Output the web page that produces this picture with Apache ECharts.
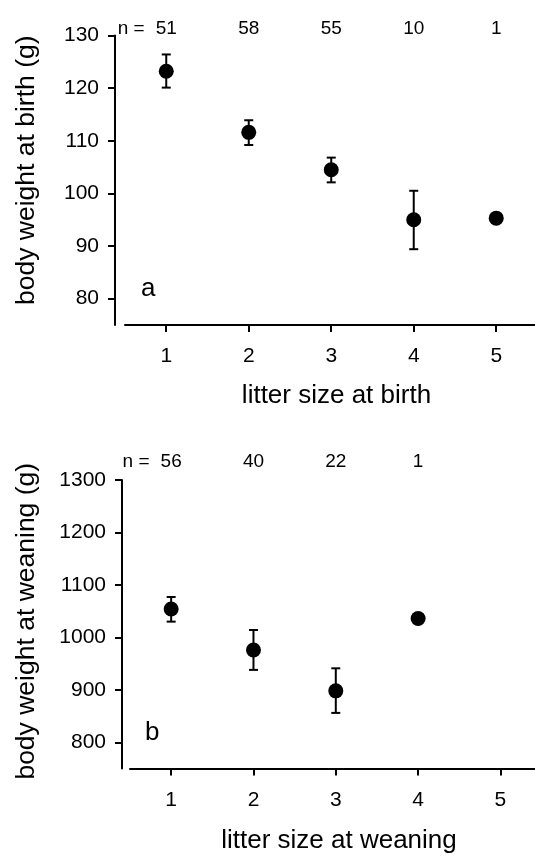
<!DOCTYPE html>
<html>
<head>
<meta charset="utf-8">
<script src="https://cdn.jsdelivr.net/npm/echarts@6/dist/echarts.min.js"></script>
<style>
html,body{margin:0;padding:0;background:#fff;}
#chart{width:535px;height:856px;}
</style>
</head>
<body>
<div id="chart"></div>
<script>
// ---- Data ----
var birthSizes = [1, 2, 3, 4, 5];
var birthMean  = [123.2, 111.6, 104.5, 95.0, 95.3];
var birthLow   = [120.1, 109.2, 102.1, 89.4, null];
var birthHigh  = [126.4, 113.9, 106.8, 100.5, null];
var birthN     = [51, 58, 55, 10, 1];

var weanSizes = [1, 2, 3, 4];
var weanMean  = [1054, 976, 898, 1036];
var weanLow   = [1030, 938, 856, null];
var weanHigh  = [1077, 1014, 941, null];
var weanN     = [56, 40, 22, 1];

var xTicks = [1, 2, 3, 4, 5];
var birthYTicks = [80, 90, 100, 110, 120, 130];
var weanYTicks  = [800, 900, 1000, 1100, 1200, 1300];

// ---- Helpers ----
var FONT = "'Liberation Sans', Arial, Helvetica, sans-serif";

function points(xs, ys) {
  return xs.map(function (x, i) { return [x, ys[i]]; });
}
function bars(xs, lo, hi) {
  var out = [];
  xs.forEach(function (x, i) {
    if (lo[i] != null && hi[i] != null) out.push([x, lo[i], hi[i]]);
  });
  return out;
}
function errRender(params, api) {
  var x = api.value(0);
  var p1 = api.coord([x, api.value(1)]);
  var p2 = api.coord([x, api.value(2)]);
  var hw = 4.5;
  var st = { stroke: '#000', lineWidth: 2 };
  return {
    type: 'group',
    children: [
      { type: 'line', shape: { x1: p1[0], y1: p1[1], x2: p2[0], y2: p2[1] }, style: st },
      { type: 'line', shape: { x1: p1[0] - hw, y1: p1[1], x2: p1[0] + hw, y2: p1[1] }, style: st },
      { type: 'line', shape: { x1: p2[0] - hw, y1: p2[1], x2: p2[0] + hw, y2: p2[1] }, style: st }
    ]
  };
}
function nFormatter(xs, ns) {
  return function (v) {
    var i = xs.indexOf(v);
    if (i < 0) return '';
    if (i === 0) return '{p|n = }{v|' + ns[i] + '}{q|}';
    return '{v|' + ns[i] + '}';
  };
}
var nRich = {
  p: { fontSize: 19, fontFamily: FONT, color: '#000', width: 38, align: 'left' },
  v: { fontSize: 19, fontFamily: FONT, color: '#000' },
  q: { fontSize: 19, fontFamily: FONT, width: 38 }
};
function plain(v) { return String(v); }

function bottomX(gridIndex, max, name, nameGap) {
  return {
    type: 'value', gridIndex: gridIndex, position: 'bottom',
    min: 0.5, max: max,
    name: name, nameLocation: 'middle', nameGap: nameGap,
    nameTextStyle: { fontSize: 26, fontFamily: FONT, color: '#000', padding: [0, 0, 0, 13] },
    axisLine: { show: true, onZero: false, lineStyle: { color: '#000', width: 2 } },
    axisTick: { show: true, length: 7, customValues: xTicks, lineStyle: { color: '#000', width: 2 } },
    axisLabel: { show: true, customValues: xTicks, margin: 21, fontSize: 21, fontFamily: FONT, color: '#000', formatter: plain },
    splitLine: { show: false }
  };
}
function topX(gridIndex, max, xs, ns, margin) {
  return {
    type: 'value', gridIndex: gridIndex, position: 'top',
    min: 0.5, max: max,
    axisLine: { show: false },
    axisTick: { show: false },
    axisLabel: { show: true, customValues: xs, margin: margin, formatter: nFormatter(xs, ns), rich: nRich, fontSize: 19, fontFamily: FONT, color: '#000' },
    splitLine: { show: false }
  };
}
function leftY(gridIndex, min, max, ticks, name, offset, nameGap, shift) {
  return {
    type: 'value', gridIndex: gridIndex, position: 'left', offset: offset,
    min: min, max: max,
    name: name, nameLocation: 'middle', nameGap: nameGap,
    nameTextStyle: { fontSize: 26.5, fontFamily: FONT, color: '#000', padding: [0, 0, 0, shift] },
    axisLine: { show: true, onZero: false, lineStyle: { color: '#000', width: 2 } },
    axisTick: { show: true, length: 7, customValues: ticks, lineStyle: { color: '#000', width: 2 } },
    axisLabel: { show: true, customValues: ticks, margin: 16, fontSize: 21, fontFamily: FONT, color: '#000', formatter: plain },
    splitLine: { show: false }
  };
}

var option = {
  backgroundColor: '#fff',
  animation: false,
  grid: [
    { left: 125, top: 35.5, right: 0, height: 289.5 },
    { left: 130, top: 480, right: 0, height: 288.5 }
  ],
  xAxis: [
    bottomX(0, 5.47, 'litter size at birth', 58),
    topX(0, 5.47, birthSizes, birthN, -3),
    bottomX(1, 5.42, 'litter size at weaning', 59),
    topX(1, 5.42, weanSizes, weanN, 9)
  ],
  yAxis: [
    leftY(0, 75, 130, birthYTicks, 'body weight at birth (g)', 10, 75, 20),
    leftY(1, 750, 1300, weanYTicks, 'body weight at weaning (g)', 8, 82, 6)
  ],
  graphic: [
    { type: 'text', left: 141, top: 276, style: { text: 'a', fontSize: 26, fontFamily: FONT, fill: '#000' } },
    { type: 'text', left: 145, top: 720, style: { text: 'b', fontSize: 26, fontFamily: FONT, fill: '#000' } }
  ],
  series: [
    {
      type: 'custom', xAxisIndex: 0, yAxisIndex: 0,
      renderItem: errRender, encode: { x: 0, y: [1, 2] },
      data: bars(birthSizes, birthLow, birthHigh), z: 2, silent: true
    },
    {
      type: 'scatter', xAxisIndex: 0, yAxisIndex: 0,
      data: points(birthSizes, birthMean),
      symbol: 'circle', symbolSize: 15, itemStyle: { color: '#000', opacity: 1 }, z: 3
    },
    {
      type: 'custom', xAxisIndex: 2, yAxisIndex: 1,
      renderItem: errRender, encode: { x: 0, y: [1, 2] },
      data: bars(weanSizes, weanLow, weanHigh), z: 2, silent: true
    },
    {
      type: 'scatter', xAxisIndex: 2, yAxisIndex: 1,
      data: points(weanSizes, weanMean),
      symbol: 'circle', symbolSize: 15, itemStyle: { color: '#000', opacity: 1 }, z: 3
    }
  ]
};

var chart = echarts.init(document.getElementById('chart'), null, { renderer: 'canvas' });
chart.setOption(option);
</script>
</body>
</html>
